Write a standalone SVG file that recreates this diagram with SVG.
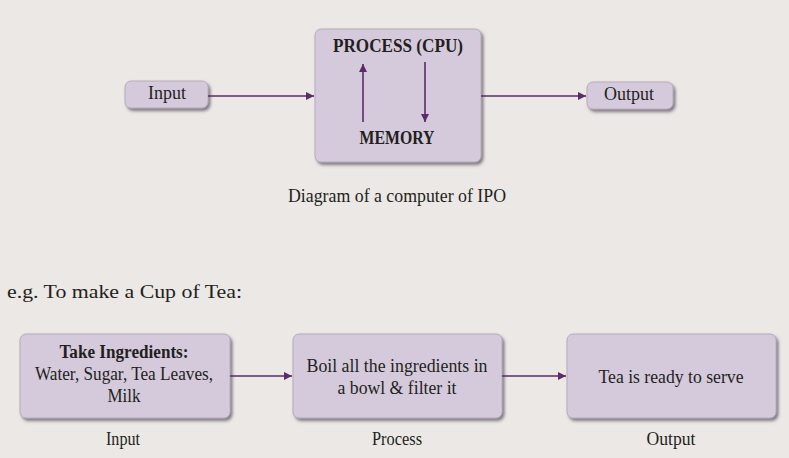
<svg xmlns="http://www.w3.org/2000/svg" width="789" height="458" viewBox="0 0 789 458">
  <defs>
    <filter id="sh" x="-10%" y="-20%" width="130%" height="150%">
      <feDropShadow dx="2" dy="2.5" stdDeviation="1.6" flood-color="#6e6672" flood-opacity="0.85"/>
    </filter>
    <marker id="ah" viewBox="0 0 10 10" refX="10" refY="5" markerWidth="11" markerHeight="8" markerUnits="userSpaceOnUse" orient="auto">
      <path d="M0,0 L10,5 L0,10 z" fill="#5a2a6a"/>
    </marker>
    <style>
      .box { fill: #d5cadb; stroke: #b6abbb; stroke-width: 1; filter: url(#sh); }
      .conn { stroke: #5a2a6a; stroke-width: 1.6; fill: none; marker-end: url(#ah); }
      text { font-family: "Liberation Serif", "DejaVu Serif", serif; fill: #231f20; text-anchor: middle; font-size: 18px; }
      .b { font-weight: bold; }
    </style>
  </defs>
  <rect width="789" height="458" fill="#ebe8e5"/>

  <g id="input">
    <rect class="box" x="125" y="81" width="83" height="27" rx="6"/>
    <text x="167" y="99" textLength="38" lengthAdjust="spacingAndGlyphs">Input</text>
  </g>
  <g id="process">
    <rect class="box" x="315" y="29" width="166" height="133" rx="6"/>
    <text class="b" x="398" y="52" font-size="16.5" textLength="130" lengthAdjust="spacingAndGlyphs">PROCESS (CPU)</text>
    <text class="b" x="397" y="144" font-size="16.5" textLength="75" lengthAdjust="spacingAndGlyphs">MEMORY</text>
  </g>
  <g id="output">
    <rect class="box" x="587" y="82" width="86" height="27" rx="6"/>
    <text x="629" y="100" textLength="50" lengthAdjust="spacingAndGlyphs">Output</text>
  </g>

  <text id="caption" x="397" y="202" font-size="17.5" textLength="218" lengthAdjust="spacingAndGlyphs">Diagram of a computer of IPO</text>
  <text id="heading" x="7" y="298" font-size="22.5" style="text-anchor:start" textLength="235" lengthAdjust="spacingAndGlyphs">e.g. To make a Cup of Tea:</text>

  <g id="tea-input">
    <rect class="box" x="20" y="334" width="210" height="84" rx="6"/>
    <text class="b" x="124" y="358" textLength="129" lengthAdjust="spacingAndGlyphs">Take Ingredients:</text>
    <text x="124" y="380" textLength="178" lengthAdjust="spacingAndGlyphs">Water, Sugar, Tea Leaves,</text>
    <text x="124" y="402" textLength="33" lengthAdjust="spacingAndGlyphs">Milk</text>
    <text x="123" y="445" textLength="34" lengthAdjust="spacingAndGlyphs">Input</text>
  </g>
  <g id="tea-process">
    <rect class="box" x="293" y="334" width="209" height="84" rx="6"/>
    <text x="397" y="372" textLength="181" lengthAdjust="spacingAndGlyphs">Boil all the ingredients in</text>
    <text x="397" y="394" textLength="119" lengthAdjust="spacingAndGlyphs">a bowl &amp; filter it</text>
    <text x="397" y="445" textLength="50" lengthAdjust="spacingAndGlyphs">Process</text>
  </g>
  <g id="tea-output">
    <rect class="box" x="567" y="334" width="209" height="84" rx="6"/>
    <text x="671" y="383" textLength="145" lengthAdjust="spacingAndGlyphs">Tea is ready to serve</text>
    <text x="671" y="445" textLength="49" lengthAdjust="spacingAndGlyphs">Output</text>
  </g>

  <g id="connectors">
    <line class="conn" x1="208" y1="96" x2="314" y2="96"/>
    <line class="conn" x1="481" y1="96" x2="586" y2="96"/>
    <line class="conn" x1="363" y1="122" x2="363" y2="64"/>
    <line class="conn" x1="425" y1="62" x2="425" y2="122"/>
    <line class="conn" x1="230" y1="376" x2="292" y2="376"/>
    <line class="conn" x1="502" y1="376" x2="566" y2="376"/>
  </g>
</svg>
